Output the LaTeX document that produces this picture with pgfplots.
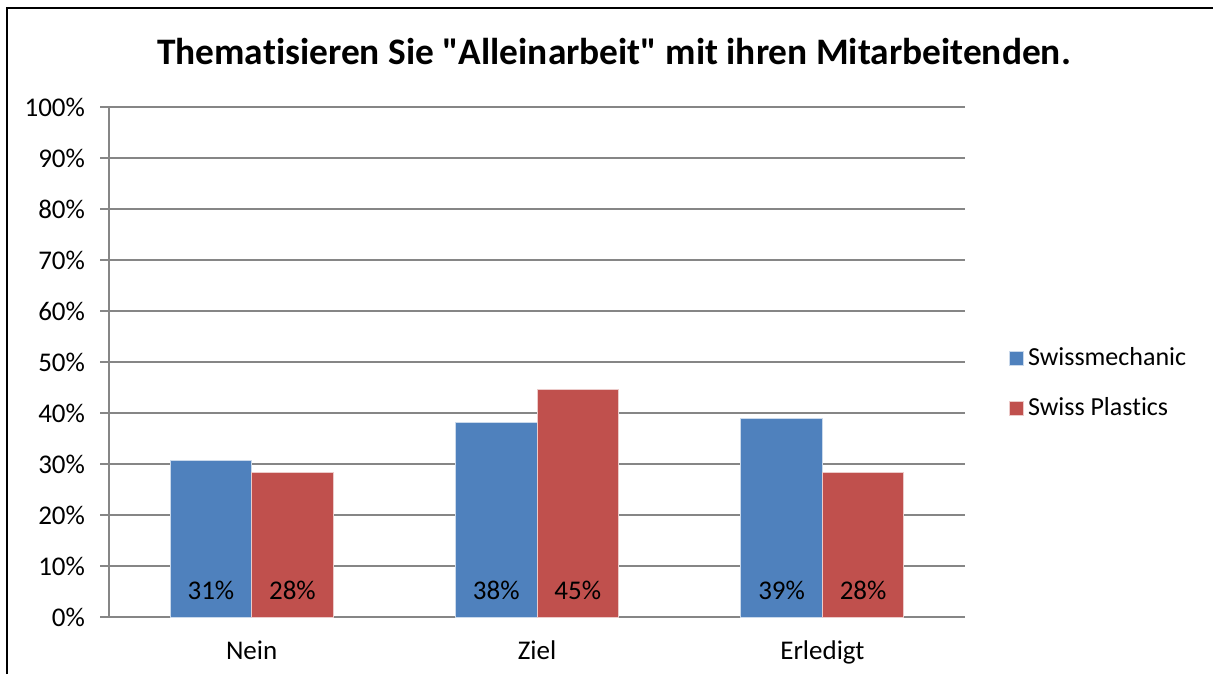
\documentclass[border=0pt]{standalone}
\usepackage{fontspec}
\setmainfont{Carlito}[Ligatures={TeXOff,NoCommon}]
\usepackage{pgfplots}
\pgfplotsset{compat=1.18}
\definecolor{smblue}{RGB}{79,129,189}
\definecolor{spred}{RGB}{192,80,77}
\definecolor{gridgray}{RGB}{134,134,134}

\begin{document}
\begin{tikzpicture}
% page = 1213 x 674 px, 1px = 0.5pt
\path[use as bounding box] (0,0) rectangle (606.5pt,337pt);
\draw[black, line width=1pt] (3.5pt,0) -- (3.5pt,333pt) -- (606.5pt,333pt);
\node[font=\fontsize{18.7}{22}\selectfont\bfseries] at (307pt,311pt)
  {Thematisieren Sie "Alleinarbeit" mit ihren Mitarbeitenden.};
\begin{axis}[
    at={(54.5pt,28.5pt)}, anchor=south west,
    scale only axis, width=428pt, height=255pt,
    xmin=-0.5, xmax=2.5, ymin=0, ymax=100,
    xtick={0,1,2}, xticklabels={Nein,Ziel,Erledigt},
    ytick={0,10,...,100},
    yticklabel={\pgfmathprintnumber{\tick}\%},
    /pgf/number format/assume math mode=true,
    tick label style={font=\fontsize{13.5}{15}\selectfont},
    yticklabel style={xshift=-4pt},
    xtick style={draw=none},
    ytick style={gridgray, line width=0.9pt},
    tick align=outside, major tick length=4.5pt,
    ymajorgrids, grid style={gridgray, line width=0.9pt},
    axis x line*=bottom, axis y line*=left,
    axis line style={gridgray, line width=0.9pt, -},
    xticklabel style={yshift=-4pt},
    ybar=0pt, bar width=40.75pt,
    legend style={at={(1.044,0.458)}, anchor=west, draw=none,
      font=\fontsize{13}{15}\selectfont, row sep=10.5pt,
      /tikz/every even column/.append style={column sep=2pt}},
    legend cell align=left,
    area legend,
    legend image code/.code={\fill[#1] (0pt,-3.5pt) rectangle (7pt,3.5pt);},
]
\addplot[fill=smblue, draw=white!70!smblue, line width=0.5pt, bar shift=-20.375pt]
  coordinates {(0,30.6) (1,38.2) (2,39.0)};
\addlegendentry{Swissmechanic}
\addplot[fill=spred, draw=white!70!spred, line width=0.5pt, bar shift=20.375pt]
  coordinates {(0,28.4) (1,44.7) (2,28.4)};
\addlegendentry{Swiss Plastics}
% value labels at the foot of each bar
\addplot[draw=none, fill=none, forget plot, bar shift=-20.375pt,
  point meta=explicit symbolic, nodes near coords,
  every node near coord/.append style={anchor=center, yshift=0pt, font=\fontsize{13.5}{15}\selectfont}]
  coordinates {(0,5.3)[31\%] (1,5.3)[38\%] (2,5.3)[39\%]};
\addplot[draw=none, fill=none, forget plot, bar shift=20.375pt,
  point meta=explicit symbolic, nodes near coords,
  every node near coord/.append style={anchor=center, yshift=0pt, font=\fontsize{13.5}{15}\selectfont}]
  coordinates {(0,5.3)[28\%] (1,5.3)[45\%] (2,5.3)[28\%]};
\end{axis}
\end{tikzpicture}
\end{document}
